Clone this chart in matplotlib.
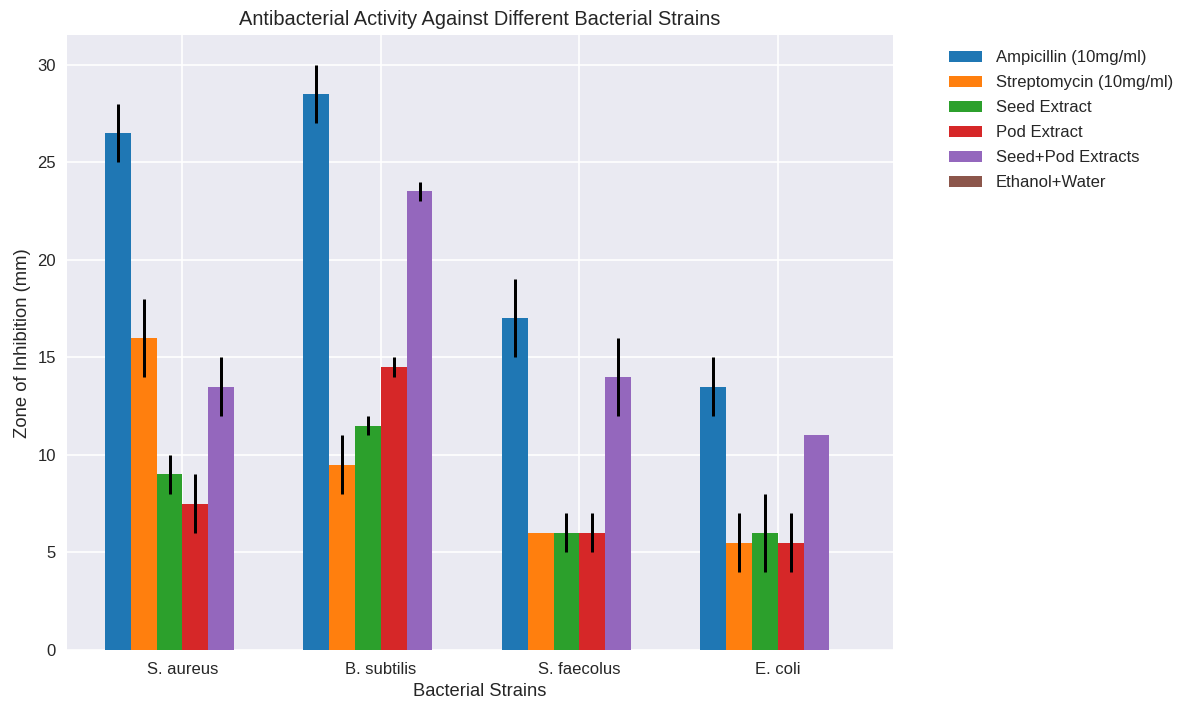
import matplotlib
matplotlib.use("Agg")
import matplotlib.pyplot as plt
import numpy as np

plt.style.use("seaborn-v0_8")
plt.rcParams['font.family'] = ['Liberation Sans', 'DejaVu Sans']

strains = ["S. aureus", "B. subtilis", "S. faecolus", "E. coli"]
series = ["Ampicillin (10mg/ml)", "Streptomycin (10mg/ml)", "Seed Extract",
          "Pod Extract", "Seed+Pod Extracts", "Ethanol+Water"]
ampicillin = [26.5, 28.5, 17.0, 13.5]
ampicillin_err = [1.5, 1.5, 2.0, 1.5]
streptomycin = [16.0, 9.5, 6.0, 5.5]
streptomycin_err = [2.0, 1.5, 0.0, 1.5]
seed = [9.0, 11.5, 6.0, 6.0]
seed_err = [1.0, 0.5, 1.0, 2.0]
pod = [7.5, 14.5, 6.0, 5.5]
pod_err = [1.5, 0.5, 1.0, 1.5]
seedpod = [13.5, 23.5, 14.0, 11.0]
seedpod_err = [1.5, 0.5, 2.0, 0.0]
ethanol = [0.0, 0.0, 0.0, 0.0]
ethanol_err = [0.0, 0.0, 0.0, 0.0]

values = [ampicillin, streptomycin, seed, pod, seedpod, ethanol]
errors = [ampicillin_err, streptomycin_err, seed_err, pod_err, seedpod_err, ethanol_err]
colors = ['#1f77b4', '#ff7f0e', '#2ca02c', '#d62728', '#9467bd', '#8c564b']

DPI = 120
fig = plt.figure(figsize=(1184 / DPI, 705 / DPI), dpi=DPI)
ax = fig.add_axes([0.057, 0.078, 0.697, 0.872])

x = np.arange(len(strains))
w = 0.13
for i, (name, v, e, c) in enumerate(zip(series, values, errors, colors)):
    ax.bar(x + (i - 2.5) * w, v, w, yerr=e, label=name, color=c,
           error_kw=dict(ecolor='black', elinewidth=1.8, capsize=0))

ax.set_xticks(x)
ax.set_xticklabels(strains)
ax.set_ylim(0, 31.5)
ax.set_xlabel("Bacterial Strains", fontsize=11)
ax.set_ylabel("Zone of Inhibition (mm)", fontsize=11)
ax.set_title("Antibacterial Activity Against Different Bacterial Strains", fontsize=12)
ax.legend(bbox_to_anchor=(1.05, 1), loc='upper left', fontsize=10, labelspacing=0.6)

fig.savefig("out.png", dpi=DPI)
